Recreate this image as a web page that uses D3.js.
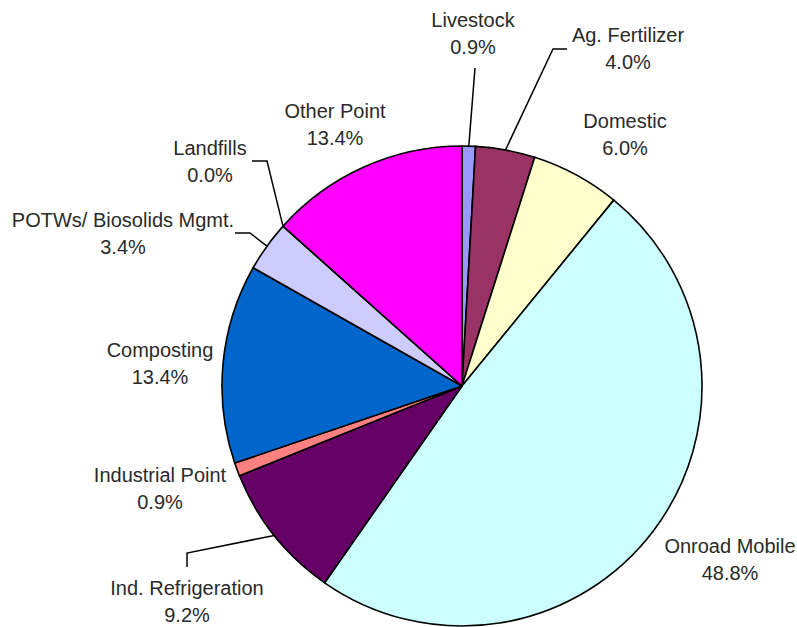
<!DOCTYPE html>
<html>
<head>
<meta charset="utf-8">
<script src="https://cdn.jsdelivr.net/npm/d3@7"></script>
<style>
  html, body { margin: 0; padding: 0; background: #fff; }
  svg { display: block; }
  text { font-family: "Liberation Sans", Arial, sans-serif; fill: #2a2a2a; }
</style>
</head>
<body>
<div id="chart"></div>
<script>
// categories and shares (%), clockwise from 12 o'clock
const categories = [
  "Livestock", "Ag. Fertilizer", "Domestic", "Onroad Mobile", "Ind. Refrigeration",
  "Industrial Point", "Composting", "POTWs/ Biosolids Mgmt.", "Landfills", "Other Point",
];
const shares = [0.9, 4.0, 6.0, 48.8, 9.2, 0.9, 13.4, 3.4, 0.0, 13.4];
const colors = [
  "#9999ff", "#993366", "#ffffcc", "#ccffff", "#660066",
  "#ff8080", "#0066cc", "#ccccff", "#ffffff", "#ff00ff",
];

// label anchors: [center x, first baseline]
const labelPos = [
  [473, 27], [628, 42], [625, 128], [730, 553], [187, 595],
  [160, 482], [160, 357], [123, 227], [210, 155], [335, 118],
];
// leader line elbows (after the point on the pie rim), null = no leader
const leaders = [
  [[475, 68]],
  [[553, 49], [567, 49]],
  null,
  null,
  [[187, 553], [187, 567]],
  null,
  null,
  [[250, 233], [235, 233]],
  [[267, 161], [252, 161]],
  null,
];

const W = 797, H = 627, cx = 462, cy = 386, R = 240;

const data = categories.map((c, i) => ({ name: c, value: shares[i], color: colors[i], i }));

const svg = d3.select("#chart").append("svg")
  .attr("width", W).attr("height", H);

const g = svg.append("g").attr("transform", `translate(${cx},${cy})`);

const pie = d3.pie().sort(null).value((d) => d.value);
const arc = d3.arc().innerRadius(0).outerRadius(R);
const arcs = pie(data);

g.selectAll("path.slice")
  .data(arcs)
  .enter()
  .append("path")
  .attr("class", "slice")
  .attr("d", arc)
  .attr("fill", (d) => d.data.color)
  .attr("stroke", "#000")
  .attr("stroke-width", 1.6)
  .attr("stroke-linejoin", "round");

// leader lines from rim at slice mid-angle
arcs.forEach((a) => {
  const pts = leaders[a.data.i];
  if (!pts) return;
  const mid = (a.startAngle + a.endAngle) / 2;
  const start = [cx + R * Math.sin(mid), cy - R * Math.cos(mid)];
  svg.append("path")
    .attr("d", d3.line()([start, ...pts]))
    .attr("fill", "none")
    .attr("stroke", "#000")
    .attr("stroke-width", 1.5);
});

const labels = svg.selectAll("text.lbl")
  .data(data)
  .enter()
  .append("text")
  .attr("class", "lbl")
  .attr("text-anchor", "middle")
  .attr("font-size", "20px");

labels.append("tspan")
  .attr("x", (d) => labelPos[d.i][0])
  .attr("y", (d) => labelPos[d.i][1])
  .text((d) => d.name);

labels.append("tspan")
  .attr("x", (d) => labelPos[d.i][0])
  .attr("y", (d) => labelPos[d.i][1] + 27)
  .text((d) => d.value.toFixed(1) + "%");
</script>
</body>
</html>
